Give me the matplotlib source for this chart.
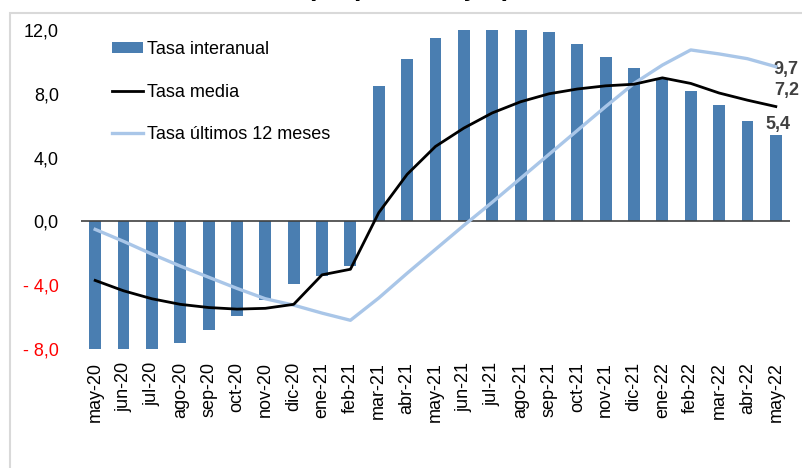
import matplotlib
matplotlib.use("Agg")
import matplotlib.pyplot as plt
from matplotlib.patches import Patch, Rectangle
from matplotlib.lines import Line2D

# ---- data ----
months = ["may-20", "jun-20", "jul-20", "ago-20", "sep-20", "oct-20", "nov-20", "dic-20",
          "ene-21", "feb-21", "mar-21", "abr-21", "may-21", "jun-21", "jul-21", "ago-21",
          "sep-21", "oct-21", "nov-21", "dic-21", "ene-22", "feb-22", "mar-22", "abr-22", "may-22"]
tasa_interanual = [-8.0, -8.0, -8.0, -7.6, -6.8, -5.9, -4.9, -3.9, -3.4, -2.8,
                   8.5, 10.2, 11.5, 12.0, 12.0, 12.0, 11.9, 11.1, 10.3, 9.6,
                   9.0, 8.2, 7.3, 6.3, 5.4]
tasa_media = [-3.7, -4.35, -4.85, -5.2, -5.4, -5.5, -5.45, -5.2, -3.35, -3.0,
              0.55, 2.95, 4.7, 5.85, 6.8, 7.5, 8.0, 8.3, 8.5, 8.6,
              9.0, 8.65, 8.05, 7.6, 7.2]
tasa_12m = [-0.5, -1.25, -2.05, -2.8, -3.5, -4.2, -4.85, -5.25, -5.75, -6.2,
            -4.8, -3.25, -1.75, -0.25, 1.2, 2.7, 4.2, 5.7, 7.2, 8.65,
            9.8, 10.75, 10.5, 10.2, 9.7]
ytick_vals = [12, 8, 4, 0, -4, -8]
ytick_labels = ["12,0", "8,0", "4,0", "0,0", "- 4,0", "- 8,0"]
series_names = ["Tasa interanual", "Tasa media", "Tasa últimos 12 meses"]
title = "(en porcentajes)"

plt.rcParams['font.family'] = ['Liberation Sans', 'DejaVu Sans']

W, H = 803, 468
fig = plt.figure(figsize=(W / 100, H / 100), dpi=100)
ax = fig.add_axes([81 / W, (H - 349) / H, 709 / W, 319 / H])

bar_color = "#4a7eb1"
light_color = "#a9c6e8"
x = list(range(len(months)))

ax.bar(x, tasa_interanual, width=0.42, color=bar_color, zorder=2)
ax.axhline(0, color="#404040", lw=1.2, zorder=3)
ax.plot(x, tasa_12m, color=light_color, lw=2.4, zorder=4)
ax.plot(x, tasa_media, color="black", lw=2.0, zorder=5)

ax.set_xlim(-0.5, len(months) - 0.5)
ax.set_ylim(-8, 12)
for s in ax.spines.values():
    s.set_visible(False)
ax.set_xticks(x)
ax.set_xticklabels(months, rotation=90, fontsize=13)
ax.set_yticks(ytick_vals)
ax.set_yticklabels(ytick_labels, fontsize=13)
for lab, v in zip(ax.get_yticklabels(), ytick_vals):
    lab.set_color("red" if v < 0 else "black")
ax.tick_params(axis="x", length=0, pad=9.5)
ax.tick_params(axis="y", length=0, pad=16)
ax.patch.set_alpha(0)

# data labels
lab_kw = dict(fontsize=13, fontweight="bold", color="#404040", textcoords="offset pixels")
n = len(months) - 1
ax.annotate(f"{tasa_12m[-1]:.1f}".replace(".", ","), (n, tasa_12m[-1]), xytext=(-2, -3),
            ha="left", va="center", **lab_kw)
ax.annotate(f"{tasa_media[-1]:.1f}".replace(".", ","), (n, tasa_media[-1]), xytext=(-2, 16),
            ha="left", va="center", **lab_kw)
ax.annotate(f"{tasa_interanual[-1]:.1f}".replace(".", ","), (n, tasa_interanual[-1]), xytext=(2, 2),
            ha="center", va="bottom", **lab_kw)

# legend
handles = [Patch(facecolor=bar_color, edgecolor="none"),
           Line2D([], [], color="black", lw=2.0),
           Line2D([], [], color=light_color, lw=2.4)]
fig.legend(handles, series_names, loc="upper left",
           bbox_to_anchor=(112 / W, 1 - 41 / H), bbox_transform=fig.transFigure,
           frameon=False, fontsize=13, handlelength=1.7, handletextpad=0.25,
           labelspacing=1.42, borderpad=0, borderaxespad=0, handleheight=0.6)

# outer frame (cut at right/bottom)
fig.patches.append(Rectangle((10 / W, -0.1), 1.5, 1 - 13 / H + 0.1, fill=False,
                             edgecolor="#d9d9d9", lw=1.5, transform=fig.transFigure))

# title mostly cut off at top (as in the reference)
fig.text(409 / W, 1.0 + 4 / H, title, ha="center", va="baseline",
         fontsize=19, fontweight="bold")

fig.savefig("out.png", dpi=100)
